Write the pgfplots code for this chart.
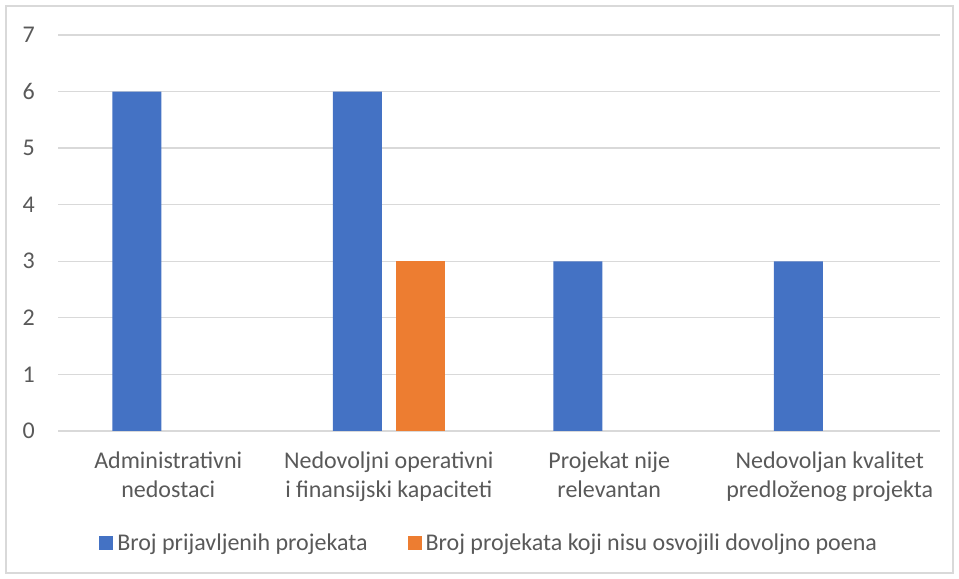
\documentclass[border=0pt]{standalone}
\usepackage{fontspec}
\setmainfont{Carlito}
\usepackage{pgfplots}
\pgfplotsset{compat=1.18}
\definecolor{txt}{HTML}{595959}
\definecolor{gridc}{HTML}{D9D9D9}
\definecolor{blu}{HTML}{4472C4}
\definecolor{org}{HTML}{ED7D31}
\begin{document}
\begin{tikzpicture}
\begin{pgfinterruptboundingbox}
\begin{axis}[
 scale only axis, width=882pt, height=396pt,
 clip=false,
 xmin=-0.5, xmax=3.5, ymin=0, ymax=7,
 ytick={0,...,7},
 xtick={0,1,2,3},
 xticklabels={{Administrativni\\nedostaci},{Nedovoljni operativni\\i finansijski kapaciteti},{Projekat nije\\relevantan},{Nedovoljan kvalitet\\predloženog projekta}},
 x tick label style={align=center, font=\fontsize{24}{29}\selectfont, text=txt, inner sep=0pt, yshift=-21pt},
 y tick label style={font=\fontsize{24}{29}\selectfont, text=txt, inner sep=0pt, xshift=-23pt},
 /pgf/number format/assume math mode=true,
 major tick length=0pt,
 ymajorgrids, grid style={gridc, line width=1.3pt},
 axis line style={draw=none},
 ybar, bar width=49pt,
 legend style={draw=none, fill=none, at={(0.49,-0.283)}, anchor=center, legend columns=2,
   font=\fontsize{24}{29}\selectfont, text=txt,
   /tikz/every even column/.append style={column sep=36pt},
   nodes={inner ysep=3pt, inner xsep=4pt}},
 legend image code/.code={\fill[#1] (0pt,-7pt) rectangle (14pt,7pt);},
]
\addplot[fill=blu, draw=none, bar shift=-31.5pt] coordinates {(0,6) (1,6) (2,3) (3,3)};
\addplot[fill=org, draw=none, bar shift=31.5pt] coordinates {(1,3)};
\legend{Broj prijavljenih projekata, Broj projekata koji nisu osvojili dovoljno poena}
\coordinate (bl) at (rel axis cs:-0.065760,-0.373737);
\coordinate (tr) at (rel axis cs:1.021542,1.088384);
\coordinate (fbl) at (rel axis cs:-0.058957,-0.358586);
\coordinate (ftr) at (rel axis cs:1.014739,1.073232);
\end{axis}
\end{pgfinterruptboundingbox}
\useasboundingbox (bl) rectangle (tr);
\draw[gridc, line width=1.3pt] (fbl) rectangle (ftr);
\end{tikzpicture}
\end{document}
